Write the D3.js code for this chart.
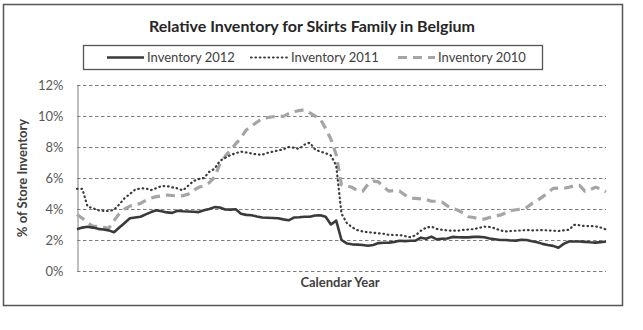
<!DOCTYPE html>
<html>
<head>
<meta charset="utf-8">
<script src="https://cdn.jsdelivr.net/npm/d3@7"></script>
<style>
  body { margin: 0; background: #fff; }
  text { font-family: Lato, "Open Sans", sans-serif; }
</style>
</head>
<body>
<script>
const title = "Relative Inventory for Skirts Family in Belgium";

// weekly store inventory share (%)
var inv2012 = [2.7, 2.8, 2.85, 2.8, 2.72, 2.68, 2.62, 2.5, 2.8, 3.1,
  3.4, 3.45, 3.5, 3.65, 3.8, 3.92, 3.85, 3.78, 3.75, 3.89,
  3.85, 3.84, 3.82, 3.8, 3.92, 4.0, 4.12, 4.1, 3.97, 3.96,
  3.98, 3.7, 3.62, 3.6, 3.52, 3.45, 3.44, 3.42, 3.4, 3.33,
  3.27, 3.45, 3.47, 3.5, 3.5, 3.58, 3.6, 3.5, 3.0, 3.25,
  2.0, 1.78, 1.72, 1.7, 1.68, 1.63, 1.68, 1.8, 1.82, 1.83,
  1.88, 1.95, 1.93, 1.95, 1.96, 2.15, 2.08, 2.22, 2.04, 2.08,
  2.1, 2.2, 2.18, 2.17, 2.17, 2.2, 2.2, 2.18, 2.1, 2.05,
  2.0, 2.0, 1.97, 1.96, 2.02, 2.0, 1.92, 1.85, 1.75, 1.68,
  1.62, 1.5, 1.75, 1.9, 1.9, 1.9, 1.88, 1.85, 1.83, 1.86, 1.9];

var inv2011 = [5.3, 5.3, 4.15, 4.05, 3.92, 3.88, 3.87, 3.95, 4.3, 4.7,
  4.97, 5.25, 5.33, 5.33, 5.22, 5.35, 5.48, 5.48, 5.4, 5.33,
  5.2, 5.5, 5.8, 5.93, 6.0, 6.4, 6.6, 7.1, 7.3, 7.48,
  7.6, 7.7, 7.65, 7.58, 7.52, 7.5, 7.62, 7.7, 7.78, 7.85,
  8.0, 7.95, 7.88, 8.15, 8.28, 7.85, 7.7, 7.6, 7.45, 6.8,
  3.7, 3.1, 2.82, 2.64, 2.55, 2.5, 2.47, 2.43, 2.4, 2.33,
  2.32, 2.32, 2.25, 2.18, 2.3, 2.6, 2.8, 2.86, 2.72, 2.66,
  2.62, 2.6, 2.6, 2.65, 2.68, 2.7, 2.78, 2.86, 2.84, 2.75,
  2.62, 2.55, 2.58, 2.6, 2.62, 2.64, 2.62, 2.63, 2.64, 2.62,
  2.6, 2.58, 2.62, 2.66, 2.98, 2.95, 2.9, 2.9, 2.88, 2.8, 2.68];

var inv2010 = [3.65, 3.4, 3.1, 2.9, 2.87, 2.82, 2.75, 3.25, 3.7, 4.0,
  4.19, 4.28, 4.36, 4.55, 4.7, 4.8, 4.85, 4.9, 4.87, 4.84,
  4.86, 4.95, 5.2, 5.4, 5.5, 5.7, 6.05, 6.9, 7.4, 7.8,
  8.2, 8.6, 9.1, 9.35, 9.6, 9.85, 9.9, 9.95, 9.96, 9.98,
  10.15, 10.28, 10.35, 10.4, 10.2, 10.0, 9.8, 9.2, 8.5, 7.5,
  5.55, 5.5, 5.4, 5.2, 5.15, 5.6, 5.8, 5.75, 5.4, 5.15,
  5.2, 5.15, 4.9, 4.7, 4.68, 4.65, 4.62, 4.5, 4.5, 4.45,
  4.2, 4.05, 3.92, 3.75, 3.5, 3.45, 3.35, 3.35, 3.45, 3.55,
  3.6, 3.75, 3.9, 3.95, 3.98, 4.1, 4.36, 4.55, 4.78, 5.05,
  5.33, 5.35, 5.33, 5.4, 5.5, 5.52, 5.15, 5.25, 5.4, 5.3, 5.1];

var seriesNames = ["Inventory 2012", "Inventory 2011", "Inventory 2010"];
var yTicks = [0, 2, 4, 6, 8, 10, 12];

var width = 643;
var height = 330;
var margin = {left: 77, right: 37, top: 85, bottom: 59};

var svg = d3.select("body").append("svg")
    .attr("width", width)
    .attr("height", height);

// outer frame
svg.append("rect")
    .attr("x", 3.5).attr("y", 4.5)
    .attr("width", 619).attr("height", 301)
    .attr("fill", "#fff")
    .attr("stroke", "#555")
    .attr("stroke-width", 1.5);

var x = d3.scaleLinear()
    .domain([0, inv2012.length - 1])
    .range([margin.left, width - margin.right]);

var y = d3.scaleLinear()
    .domain([0, 12])
    .range([height - margin.bottom, margin.top]);

// gridlines
svg.append("g")
  .selectAll("line")
  .data(yTicks)
  .join("line")
    .attr("x1", x(0))
    .attr("x2", x(inv2012.length - 1))
    .attr("y1", d => Math.round(y(d)) + 0.5)
    .attr("y2", d => Math.round(y(d)) + 0.5)
    .attr("stroke", "#7f7f7f")
    .attr("stroke-width", 1)
    .attr("stroke-dasharray", "3.5,2.5");

// y axis
var yAxis = svg.append("g")
    .attr("transform", "translate(" + (x(0) + 0.5) + ",0)")
    .call(d3.axisLeft(y).tickValues(yTicks).tickSize(0).tickPadding(14)
      .tickFormat(d => d + "%"));
yAxis.select(".domain").attr("stroke", "#7f7f7f").attr("stroke-width", 1);
yAxis.selectAll("text")
    .style("font-family", "Lato, sans-serif")
    .style("font-size", "13px")
    .attr("fill", "#595959");

var styles = [
  {data: inv2012, color: "#3a3a3a", w: 2.6, dash: null, cap: "butt"},
  {data: inv2011, color: "#3a3a3a", w: 2.2, dash: "0.6,3.8", cap: "round"},
  {data: inv2010, color: "#a5a5a5", w: 3.2, dash: "9,6", cap: "butt"}
];

var line = d3.line()
    .x((d, i) => x(i))
    .y(d => y(d));

// draw back to front: 2010, 2011, 2012
styles.slice().reverse().forEach(function(s) {
  svg.append("path")
      .datum(s.data)
      .attr("fill", "none")
      .attr("stroke", s.color)
      .attr("stroke-width", s.w)
      .attr("stroke-dasharray", s.dash)
      .attr("stroke-linecap", s.cap)
      .attr("stroke-linejoin", "round")
      .attr("d", line);
});

// title
svg.append("text")
    .attr("x", 312)
    .attr("y", 32)
    .attr("text-anchor", "middle")
    .style("font-size", "16px")
    .style("font-weight", "bold")
    .attr("fill", "#262626")
    .text(title);

// legend
var legend = svg.append("g");
legend.append("rect")
    .attr("x", 83.5).attr("y", 45.5)
    .attr("width", 459).attr("height", 24)
    .attr("fill", "#fff")
    .attr("stroke", "#555")
    .attr("stroke-width", 1.3);

var legendX = [107, 251, 398];
styles.forEach(function(s, i) {
  legend.append("line")
      .attr("x1", legendX[i]).attr("x2", legendX[i] + 37)
      .attr("y1", 57.5).attr("y2", 57.5)
      .attr("stroke", s.color)
      .attr("stroke-width", s.w)
      .attr("stroke-dasharray", s.dash)
      .attr("stroke-linecap", s.cap);
  legend.append("text")
      .attr("x", legendX[i] + 40)
      .attr("y", 62)
      .style("font-size", "13px")
      .attr("fill", "#404040")
      .text(seriesNames[i]);
});

// axis titles
svg.append("text")
    .attr("transform", "translate(27," + y(6) + ") rotate(-90)")
    .attr("text-anchor", "middle")
    .style("font-size", "13px")
    .style("font-weight", "bold")
    .attr("fill", "#404040")
    .text("% of Store Inventory");

svg.append("text")
    .attr("x", 340)
    .attr("y", 287)
    .attr("text-anchor", "middle")
    .style("font-size", "13px")
    .style("font-weight", "bold")
    .attr("fill", "#404040")
    .text("Calendar Year");
</script>
</body>
</html>
